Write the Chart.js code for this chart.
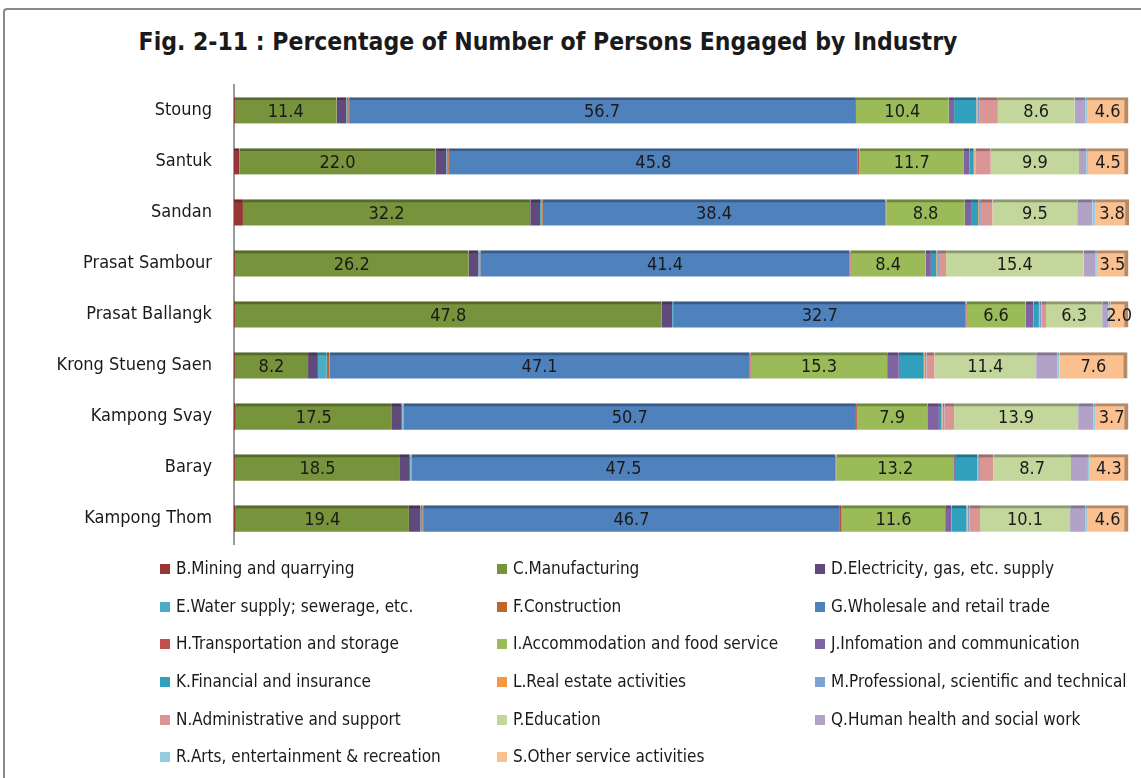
<!DOCTYPE html>
<html lang="en">
<head>
    <meta charset="UTF-8">
    <title>Persons Engaged by Industry</title>
    <style>
        body {
            margin: 0;
            width: 1141px;
            height: 778px;
            background: #fff;
            position: relative;
            overflow: hidden;
            font-family: 'Liberation Sans Narrow', 'DejaVu Sans Condensed', 'Liberation Sans', sans-serif;
        }

        /* chart frame */
        .frame {
            position: absolute;
            left: 3px;
            top: 8px;
            width: 1200px;
            height: 800px;
            border-top: 2px solid #8a8a8a;
            border-left: 2px solid #8a8a8a;
            border-top-left-radius: 4px;
        }

        h1 {
            position: absolute;
            top: 27px;
            left: 0;
            width: 1096px;
            margin: 0;
            text-align: center;
            font-size: 24.5px;
            line-height: 30px;
            font-weight: bold;
            color: #1a1a1a;
        }

        /* taller than the plot: the y scale keeps ~27px spare under the last band */
        #wrap {
            position: absolute;
            left: 0;
            top: 0;
            width: 1141px;
            height: 577px;
        }

        /* legend grid */
        #legend {
            position: absolute;
            left: 160px;
            top: 558px;
            display: grid;
            grid-template-columns: 337px 318px 330px;
            grid-auto-rows: 37.7px;
            font-size: 17px;
            color: #1a1a1a;
        }
        #legend div {
            white-space: nowrap;
        }
        #legend span {
            display: inline-block;
            width: 10px;
            height: 10px;
            margin-right: 6px;
        }
    </style>
    <script src="https://cdn.jsdelivr.net/npm/chart.js"></script>
</head>
<body>
    <div class="frame"></div>
    <h1>Fig. 2-11 : Percentage of Number of Persons Engaged by Industry</h1>
    <div id="wrap"><canvas id="industryChart"></canvas></div>
    <div id="legend"></div>

    <script>
        const areas = ['Stoung', 'Santuk', 'Sandan', 'Prasat Sambour', 'Prasat Ballangk',
                       'Krong Stueng Saen', 'Kampong Svay', 'Baray', 'Kampong Thom'];

        // shares (%) per area, same order as areas
        const mining      = [0.1, 0.6, 1.0, 0.1, 0.1, 0.1, 0.2, 0.1, 0.2];
        const manufact    = [11.4, 22.0, 32.2, 26.2, 47.8, 8.2, 17.5, 18.5, 19.4];
        const electricity = [1.1, 1.2, 1.1, 1.1, 1.2, 1.1, 1.1, 1.1, 1.3];
        const water       = [0.2, 0.2, 0.2, 0.1, 0.1, 1.0, 0.1, 0.1, 0.2];
        const construct   = [0.1, 0.1, 0.1, 0.1, 0.1, 0.3, 0.1, 0.1, 0.1];
        const wholesale   = [56.7, 45.8, 38.4, 41.4, 32.7, 47.1, 50.7, 47.5, 46.7];
        const transport   = [0.1, 0.2, 0.1, 0.1, 0.1, 0.1, 0.1, 0.1, 0.2];
        const accommod    = [10.4, 11.7, 8.8, 8.4, 6.6, 15.3, 7.9, 13.2, 11.6];
        const information = [0.6, 0.6, 0.7, 0.6, 0.9, 1.3, 1.3, 0.2, 0.7];
        const financial   = [2.5, 0.5, 0.8, 0.6, 0.6, 2.8, 0.3, 2.4, 1.7];
        const realEstate  = [0.1, 0.1, 0.1, 0.1, 0.1, 0.1, 0.1, 0.1, 0.1];
        const professional= [0.2, 0.1, 0.2, 0.2, 0.2, 0.2, 0.2, 0.2, 0.2];
        const admin       = [2.1, 1.7, 1.3, 0.8, 0.5, 0.9, 1.1, 1.5, 1.2];
        const education   = [8.6, 9.9, 9.5, 15.4, 6.3, 11.4, 13.9, 8.7, 10.1];
        const health      = [1.2, 0.8, 1.7, 1.3, 0.7, 2.4, 1.7, 1.9, 1.7];
        const arts        = [0.2, 0.2, 0.3, 0.2, 0.2, 0.2, 0.2, 0.2, 0.2];
        const otherServ   = [4.6, 4.5, 3.8, 3.5, 2.0, 7.6, 3.7, 4.3, 4.6];

        const industries = [
            ['B.Mining and quarrying', mining, '#953735'],
            ['C.Manufacturing', manufact, '#77933C'],
            ['D.Electricity, gas, etc. supply', electricity, '#604A7B'],
            ['E.Water supply; sewerage, etc.', water, '#4BACC6'],
            ['F.Construction', construct, '#C0662B'],
            ['G.Wholesale and retail trade', wholesale, '#4F81BD'],
            ['H.Transportation and storage', transport, '#C0504D'],
            ['I.Accommodation and food service', accommod, '#9BBB59'],
            ['J.Infomation and communication', information, '#8064A2'],
            ['K.Financial and insurance', financial, '#31A0BC'],
            ['L.Real estate activities', realEstate, '#F79646'],
            ['M.Professional, scientific and technical', professional, '#7FA1D4'],
            ['N.Administrative and support', admin, '#D99694'],
            ['P.Education', education, '#C3D69B'],
            ['Q.Human health and social work', health, '#B3A2C7'],
            ['R.Arts, entertainment & recreation', arts, '#93CDDD'],
            ['S.Other service activities', otherServ, '#FAC090']
        ];
        // only these series carry value labels
        const labelled = ['C.Manufacturing', 'G.Wholesale and retail trade',
                          'I.Accommodation and food service', 'P.Education', 'S.Other service activities'];

        function darker(hex, f) {
            const n = parseInt(hex.slice(1), 16);
            const r = Math.round(((n >> 16) & 255) * f);
            const g = Math.round(((n >> 8) & 255) * f);
            const b = Math.round((n & 255) * f);
            return `rgb(${r},${g},${b})`;
        }

        const datasets = industries.map(([name, vals, col], i) => ({
            label: name,
            data: vals,
            backgroundColor: col,
            borderColor: darker(col, 0.72),
            borderWidth: i === industries.length - 1 ? { top: 3, right: 4, bottom: 0, left: 0 } : { top: 3, right: 0, bottom: 0, left: 0 },
            borderSkipped: false,
            barThickness: 26
        }));

        // value labels inside segments
        const valueLabels = {
            id: 'valueLabels',
            afterDatasetsDraw(chart) {
                const ctx = chart.ctx;
                ctx.save();
                ctx.font = "18px 'Liberation Sans Narrow', 'DejaVu Sans Condensed', sans-serif";
                ctx.fillStyle = '#1a1a1a';
                ctx.textAlign = 'center';
                ctx.textBaseline = 'middle';
                chart.data.datasets.forEach((ds, i) => {
                    if (!labelled.includes(ds.label)) return;
                    chart.getDatasetMeta(i).data.forEach((bar, j) => {
                        const c = bar.getCenterPoint();
                        ctx.fillText(ds.data[j].toFixed(1), c.x, c.y + 2);
                    });
                });
                ctx.restore();
            }
        };

        new Chart(document.getElementById('industryChart'), {
            type: 'bar',
            data: { labels: areas, datasets: datasets },
            options: {
                indexAxis: 'y',
                responsive: true,
                maintainAspectRatio: false,
                animation: false,
                layout: { padding: { top: 85, right: 12, bottom: 6, left: 0 } },
                plugins: {
                    legend: { display: false },
                    tooltip: { enabled: false }
                },
                scales: {
                    x: {
                        stacked: true,
                        min: 0,
                        max: 100.3,
                        display: false
                    },
                    y: {
                        stacked: true,
                        grid: { display: false, drawTicks: false },
                        border: { display: true, color: '#9a9a9a', width: 2 },
                        ticks: {
                            color: '#1a1a1a',
                            padding: 22,
                            font: { family: "'Liberation Sans Narrow', 'DejaVu Sans Condensed', sans-serif", size: 18 }
                        },
                        afterFit(s) { s.width = 234; }
                    }
                }
            },
            plugins: [valueLabels]
        });

        // legend in three columns, like the original
        const legend = document.getElementById('legend');
        industries.forEach(([name, , col]) => {
            const d = document.createElement('div');
            d.innerHTML = `<span style="background:${col}"></span>${name}`;
            legend.appendChild(d);
        });
    </script>
</body>
</html>
